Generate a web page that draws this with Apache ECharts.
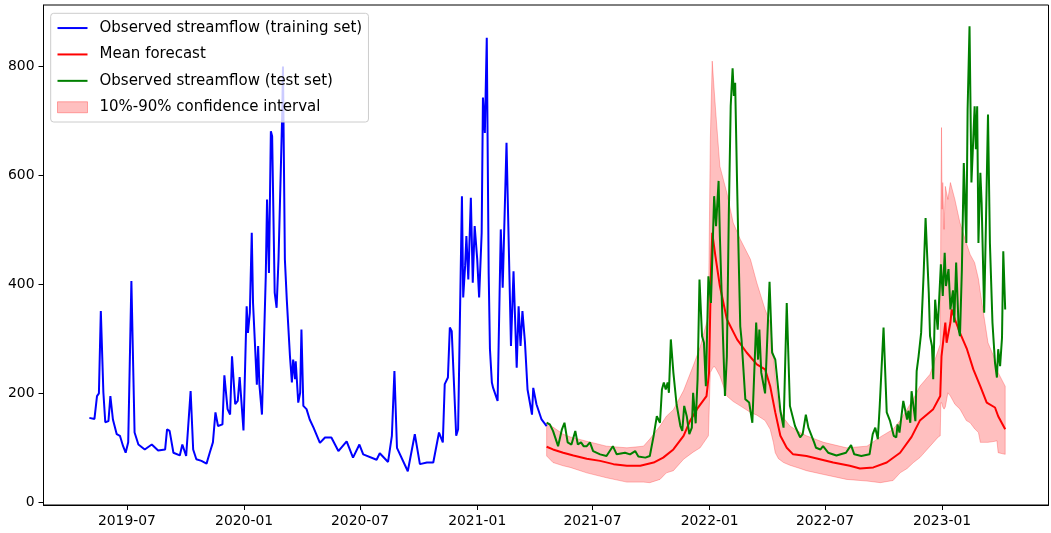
<!DOCTYPE html>
<html>
<head>
<meta charset="utf-8">
<script src="https://cdn.jsdelivr.net/npm/echarts@6/dist/echarts.min.js"></script>
<style>
  html, body { margin: 0; padding: 0; background: #ffffff; }
  #chart { width: 1051px; height: 533px; }
</style>
</head>
<body>
<div id="chart"></div>
<script>
// ---- Data (days counted from 2019-05-01, streamflow values) ----
const BASE_DATE = '2019-05-01';
const X_MIN_DATE = '2019-02-20';
const X_MAX_DATE = '2023-06-17';
const xTickDates = ['2019-07-01', '2020-01-01', '2020-07-01', '2021-01-01', '2021-07-01', '2022-01-01', '2022-07-01', '2023-01-01'];
const yTicks = [0, 200, 400, 600, 800];

const trainDays = [2,5,10,14,17,20,24,27,32,35,39,45,50,55,59,63,68,73,79,89,100,110,121,124,128,134,144,148,154,157,161,165,170,178,186,191,196,200,204,211,214,219,223,226,231,235,238,244,249,251,254,257,259,265,267,269,273,279,281,284,287,289,293,296,299,303,305,306,309,312,317,320,322,325,326,330,333,335,338,343,348,354,364,372,382,393,406,416,426,432,453,458,471,477,481,485,502,513,521,532,542,551,557,560,565,568,571,578,581,587,589,592,594,597,601,604,607,611,614,618,620,623,626,629,631,634,636,643,648,651,657,664,668,673,676,679,682,686,690,697,699,704,712,720];
const trainFlow = [155,152,153,195,200,351,202,147,149,195,152,125,122,103,91,110,406,128,106,97,106,95,97,134,131,91,86,106,85,84,204,97,79,76,71,91,110,165,140,143,233,171,161,268,180,186,230,132,360,311,348,495,366,216,287,216,161,415,556,421,681,672,385,357,446,629,721,800,446,372,268,220,262,226,259,183,201,317,177,171,152,137,109,119,119,94,112,82,106,88,78,90,74,122,241,100,57,125,70,73,73,128,110,217,229,321,314,122,134,562,376,434,489,409,559,403,507,446,376,495,743,678,853,420,281,220,210,186,501,394,660,287,424,247,360,287,351,293,207,161,210,180,152,140];

const testDays = [720,725,730,738,744,748,753,759,765,769,774,778,783,788,793,804,814,824,830,843,851,859,864,875,882,888,893,898,901,904,907,910,912,915,919,924,930,933,936,940,944,948,950,954,957,960,964,967,970,974,978,983,986,990,992,997,1000,1003,1006,1009,1012,1014,1016,1019,1021,1024,1026,1032,1038,1043,1049,1052,1054,1057,1063,1070,1074,1079,1087,1092,1097,1102,1110,1118,1122,1127,1131,1140,1143,1150,1154,1162,1175,1190,1198,1203,1214,1227,1232,1236,1240,1243,1249,1254,1259,1265,1269,1271,1274,1280,1286,1288,1291,1293,1299,1301,1304,1308,1312,1315,1320,1322,1325,1327,1330,1334,1339,1342,1345,1347,1351,1354,1358,1360,1363,1367,1369,1372,1375,1379,1381,1384,1387,1389,1392,1394,1396,1398,1401,1403,1407,1410,1413,1416,1420,1424,1427,1429,1432,1435,1437,1440];
const testFlow = [146,143,131,103,134,146,110,106,131,106,110,103,103,110,94,88,85,103,88,91,88,94,84,82,85,122,158,146,207,220,207,220,201,299,238,180,140,131,177,158,125,137,201,145,226,409,305,293,213,415,366,562,507,590,489,299,195,268,525,727,797,746,770,587,476,323,299,189,183,146,330,262,317,238,200,405,275,262,168,137,366,177,140,119,125,161,137,110,100,97,103,91,86,91,105,88,85,88,125,137,116,177,321,165,150,122,119,143,128,186,152,168,146,204,149,241,268,311,421,522,385,305,287,226,372,317,437,379,458,397,428,354,389,330,440,317,305,428,623,476,721,874,587,642,727,648,727,476,605,550,348,525,712,476,330,256,229,281,250,302,461,354];

const meanDays = [720,730,746,762,783,804,825,846,867,888,903,919,935,945,956,971,975,978,980,985,992,1003,1019,1034,1050,1063,1071,1079,1087,1097,1107,1128,1149,1170,1196,1212,1233,1254,1275,1293,1306,1327,1338,1340,1343,1346,1348,1354,1356,1361,1369,1380,1390,1401,1411,1424,1429,1440];
const meanFlow = [102,97,91,86,80,76,70,67,67,73,82,97,122,149,171,195,238,421,495,452,397,336,299,275,253,244,213,165,122,100,88,85,79,73,67,62,64,73,91,120,150,171,195,268,299,330,293,330,354,336,311,281,244,213,183,174,158,134];

const bandDays = [720,730,746,757,783,814,846,872,882,898,908,919,935,950,961,974,977,980,983,986,992,1003,1013,1024,1040,1050,1063,1071,1076,1079,1084,1092,1102,1118,1128,1155,1191,1223,1244,1264,1275,1286,1296,1306,1322,1335,1338,1339,1340,1341,1342,1344,1346,1350,1354,1361,1369,1379,1385,1392,1398,1401,1413,1424,1427,1429,1440];
const bandLow = [85,73,67,64,54,45,37,37,36,42,54,58,79,92,100,122,238,245,250,245,232,195,185,177,165,160,150,134,110,91,80,73,68,62,58,51,42,39,36,40,54,62,73,82,103,120,122,183,183,180,175,171,175,201,195,180,171,150,146,135,128,110,110,112,113,91,88];
const bandHigh = [146,138,125,120,112,103,100,103,116,140,158,170,205,250,285,342,666,810,758,709,617,568,513,483,446,403,354,330,268,230,177,155,140,128,122,110,100,103,120,134,150,171,190,213,235,280,290,538,688,538,587,501,580,556,587,556,513,476,455,440,410,385,293,262,250,238,213];

const seriesNames = ['Observed streamflow (training set)', 'Mean forecast', 'Observed streamflow (test set)', '10%-90% confidence interval'];

// ---- Helpers ----
const DAY = 86400000;
const parseDate = s => Date.parse(s + 'T00:00:00Z');
const t0 = parseDate(BASE_DATE);
const toTime = d => t0 + d * DAY;
const pairs = (days, vals) => days.map((d, i) => [toTime(d), vals[i]]);
const FONT = 'DejaVu Sans';
const xTickValues = xTickDates.map(parseDate);
const LINE_ICON = 'path://M0,0L30,0L30,2L0,2Z';
const BAND_FILL = 'rgba(255,0,0,0.25)';

const chart = echarts.init(document.getElementById('chart'), null, { renderer: 'canvas' });
const option = {
  animation: false,
  backgroundColor: '#ffffff',
  grid: {
    left: 43.5, right: 2.5, top: 5, bottom: 28,
    show: true, borderColor: '#000000', borderWidth: 1, backgroundColor: 'transparent'
  },
  legend: {
    orient: 'vertical',
    left: 50.7, top: 13.3,
    padding: [7.25, 6.3, 7.25, 6.3],
    itemWidth: 30, itemHeight: 11, itemGap: 11.4,
    symbolKeepAspect: true,
    backgroundColor: 'rgba(255,255,255,0.8)',
    borderColor: '#cccccc', borderWidth: 1, borderRadius: 3,
    textStyle: { fontFamily: FONT, fontSize: 15, color: '#000000', lineHeight: 11, padding: [0, 0, 0, 7] },
    data: [
      { name: seriesNames[0], icon: LINE_ICON, itemStyle: { color: '#0000ff' } },
      { name: seriesNames[1], icon: LINE_ICON, itemStyle: { color: '#ff0000' } },
      { name: seriesNames[2], icon: LINE_ICON, itemStyle: { color: '#008000' } },
      { name: seriesNames[3], icon: 'rect', itemStyle: { color: BAND_FILL, borderColor: 'rgba(255,0,0,0.3)', borderWidth: 1 } }
    ]
  },
  xAxis: {
    type: 'value',
    min: parseDate(X_MIN_DATE),
    max: parseDate(X_MAX_DATE),
    splitLine: { show: false },
    axisLine: { show: true, onZero: false, lineStyle: { color: '#000000', width: 1 } },
    axisTick: { show: true, length: 5, lineStyle: { color: '#000000', width: 1 }, customValues: xTickValues },
    axisLabel: {
      fontFamily: FONT, fontSize: 13.9, color: '#000000', margin: 9,
      customValues: xTickValues,
      formatter: function (v) {
        const d = new Date(v);
        return d.getUTCFullYear() + '-' + String(d.getUTCMonth() + 1).padStart(2, '0');
      }
    }
  },
  yAxis: {
    type: 'value',
    min: -5, max: 913,
    splitLine: { show: false },
    axisLine: { show: true, onZero: false, lineStyle: { color: '#000000', width: 1 } },
    axisTick: { show: true, length: 5, lineStyle: { color: '#000000', width: 1 }, customValues: yTicks },
    axisLabel: { fontFamily: FONT, fontSize: 13.9, color: '#000000', margin: 9, customValues: yTicks }
  },
  series: [
    {
      name: seriesNames[3], type: 'custom', silent: true, z: 1,
      data: bandDays.map((d, i) => [toTime(d), bandLow[i], bandHigh[i]]),
      encode: { x: 0, y: [1, 2] },
      itemStyle: { color: BAND_FILL },
      renderItem: function (params, api) {
        if (params.dataIndex !== 0) return null;
        const top = bandDays.map((d, i) => api.coord([toTime(d), bandHigh[i]]));
        const bottom = bandDays.map((d, i) => api.coord([toTime(d), bandLow[i]])).reverse();
        return {
          type: 'polygon',
          shape: { points: top.concat(bottom) },
          style: { fill: BAND_FILL, stroke: BAND_FILL, lineWidth: 1 }
        };
      }
    },
    {
      name: seriesNames[0], type: 'line', symbol: 'none', z: 3,
      data: pairs(trainDays, trainFlow),
      lineStyle: { color: '#0000ff', width: 2 }, itemStyle: { color: '#0000ff' }
    },
    {
      name: seriesNames[1], type: 'line', symbol: 'none', z: 3,
      data: pairs(meanDays, meanFlow),
      lineStyle: { color: '#ff0000', width: 2 }, itemStyle: { color: '#ff0000' }
    },
    {
      name: seriesNames[2], type: 'line', symbol: 'none', z: 3,
      data: pairs(testDays, testFlow),
      lineStyle: { color: '#008000', width: 2 }, itemStyle: { color: '#008000' }
    }
  ]
};
chart.setOption(option);
</script>
</body>
</html>
